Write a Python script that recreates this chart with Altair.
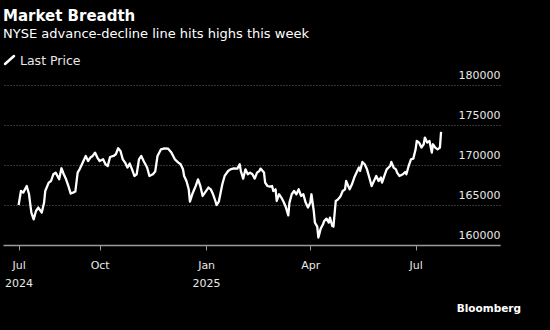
import altair as alt
import pandas as pd

dates = [
    "2024-07-23", "2024-07-25", "2024-07-27", "2024-07-30", "2024-08-01", "2024-08-03", "2024-08-05",
    "2024-08-07", "2024-08-09", "2024-08-12", "2024-08-14", "2024-08-15", "2024-08-18", "2024-08-20",
    "2024-08-22", "2024-08-24", "2024-08-27", "2024-08-29", "2024-08-31", "2024-09-02", "2024-09-04",
    "2024-09-06", "2024-09-08", "2024-09-10", "2024-09-12", "2024-09-14", "2024-09-17", "2024-09-19",
    "2024-09-21", "2024-09-23", "2024-09-25", "2024-09-27", "2024-09-29", "2024-10-01", "2024-10-04",
    "2024-10-06", "2024-10-08", "2024-10-10", "2024-10-13", "2024-10-15", "2024-10-17", "2024-10-19",
    "2024-10-21", "2024-10-23", "2024-10-25", "2024-10-27", "2024-10-29", "2024-10-31", "2024-11-02",
    "2024-11-04", "2024-11-06", "2024-11-08", "2024-11-11", "2024-11-13", "2024-11-16", "2024-11-18",
    "2024-11-20", "2024-11-23", "2024-11-26", "2024-11-29", "2024-12-02", "2024-12-05", "2024-12-08",
    "2024-12-10", "2024-12-12", "2024-12-13", "2024-12-15", "2024-12-17", "2024-12-18", "2024-12-20",
    "2024-12-23", "2024-12-25", "2024-12-27", "2024-12-29", "2024-12-31", "2025-01-03", "2025-01-05",
    "2025-01-07", "2025-01-09", "2025-01-10", "2025-01-12", "2025-01-15", "2025-01-17", "2025-01-20",
    "2025-01-22", "2025-01-25", "2025-01-28", "2025-01-30", "2025-01-31", "2025-02-02", "2025-02-04",
    "2025-02-06", "2025-02-08", "2025-02-10", "2025-02-12", "2025-02-14", "2025-02-16", "2025-02-17",
    "2025-02-20", "2025-02-21", "2025-02-23", "2025-02-25", "2025-02-27", "2025-02-28", "2025-03-02",
    "2025-03-03", "2025-03-05", "2025-03-07", "2025-03-09", "2025-03-11", "2025-03-13", "2025-03-14",
    "2025-03-16", "2025-03-18", "2025-03-20", "2025-03-22", "2025-03-24", "2025-03-26", "2025-03-28",
    "2025-03-30", "2025-04-01", "2025-04-02", "2025-04-04", "2025-04-05", "2025-04-07", "2025-04-08",
    "2025-04-10", "2025-04-12", "2025-04-13", "2025-04-15", "2025-04-17", "2025-04-18", "2025-04-20",
    "2025-04-21", "2025-04-23", "2025-04-25", "2025-04-27", "2025-04-29", "2025-05-01", "2025-05-02",
    "2025-05-05", "2025-05-07", "2025-05-09", "2025-05-11", "2025-05-13", "2025-05-14", "2025-05-16",
    "2025-05-18", "2025-05-20", "2025-05-22", "2025-05-24", "2025-05-26", "2025-05-28", "2025-05-30",
    "2025-06-01", "2025-06-02", "2025-06-04", "2025-06-06", "2025-06-09", "2025-06-10", "2025-06-12",
    "2025-06-14", "2025-06-15", "2025-06-17", "2025-06-20", "2025-06-22", "2025-06-23", "2025-06-25",
    "2025-06-26", "2025-06-27", "2025-06-29", "2025-07-01", "2025-07-02", "2025-07-04", "2025-07-06",
    "2025-07-08", "2025-07-09", "2025-07-11", "2025-07-13", "2025-07-15", "2025-07-16", "2025-07-18",
    "2025-07-20", "2025-07-22", "2025-07-23",
]

values = [
    165000, 166750, 166550, 167375, 166340, 164050, 163210,
    164250, 164680, 164050, 165300, 166750, 167800, 168000,
    168840, 169050, 168210, 169590, 168840, 168210, 167375,
    166430, 166550, 166680, 169050, 169550, 170500, 171130,
    170500, 170930, 171130, 171550, 170930, 170500, 170710,
    170090, 169880, 171000, 171130, 171340, 172090, 171750,
    170710, 170300, 169680, 170180, 169460, 168630, 168840,
    170710, 171130, 170500, 169680, 168630, 168840, 169180,
    171130, 171960, 172090, 172050, 171550, 170710, 170300,
    170090, 169460, 168630, 168000, 166960, 165430, 166340,
    167375, 168210, 167375, 166130, 166550, 167180, 166960,
    166340, 165500, 165000, 165430, 167590, 168630, 169250,
    169460, 169590, 169550, 170090, 169250, 168300, 169460,
    168840, 169050, 168840, 168300, 169050, 169250, 169550,
    169050, 167800, 167375, 167300, 167375, 166750, 166960,
    165500, 166340, 165930, 165380, 164680, 163710, 165300,
    166340, 166750, 166340, 166960, 166130, 166340, 165300,
    164680, 165300, 166340, 164250, 162800, 162300, 160930,
    162050, 162590, 163000, 163300, 162800, 163430, 162380,
    162300, 165500, 165710, 166050, 166750, 166960, 168000,
    166960, 167590, 168430, 169050, 169680, 169250, 170380,
    170090, 169460, 168430, 167375, 168000, 168630, 168000,
    168430, 167800, 168630, 169460, 169880, 170380, 169680,
    169460, 169050, 168630, 168840, 169130, 168840, 169880,
    170300, 170710, 170800, 171960, 173000, 172800, 172180,
    172590, 173430, 172800, 173000, 171550, 172590, 172180,
    171960, 172180, 174130,
]

y_ticks = [160000, 165000, 170000, 175000, 180000]
title_text = "Market Breadth"
subtitle_text = "NYSE advance-decline line hits highs this week"
legend_text = "Last Price"
source_text = "Bloomberg"

df = pd.DataFrame({"date": pd.to_datetime(dates), "value": values})

FONT = "DejaVu Sans"

x_ticks = [
    alt.DateTime(year=2024, month=7, date=23),
    alt.DateTime(year=2024, month=10, date=1),
    alt.DateTime(year=2025, month=1, date=1),
    alt.DateTime(year=2025, month=4, date=1),
    alt.DateTime(year=2025, month=7, date=1),
]

label_expr = (
    "(month(datum.value) == 0 || (year(datum.value) == 2024 && month(datum.value) == 6))"
    " ? [timeFormat(datum.value, '%b'), timeFormat(datum.value, '%Y')]"
    " : timeFormat(datum.value, '%b')"
)

line = alt.Chart(df).mark_line(color="white", strokeWidth=2.3, strokeJoin="round").encode(
    x=alt.X(
        "date:T",
        scale=alt.Scale(domain=["2024-07-09T12:00:00", "2025-09-11T22:00:00"], nice=False),
        axis=alt.Axis(
            title=None, values=x_ticks, labelExpr=label_expr, grid=False,
            domainColor="#9a9a9a", domainWidth=1.5, tickColor="#9a9a9a", tickSize=5,
            labelColor="#e8e8e8", labelFont=FONT, labelFontSize=11, labelLineHeight=18,
            labelPadding=9, labelFlush=False, labelOverlap=False, labelAlign="center",
        ),
    ),
    y=alt.Y(
        "value:Q",
        scale=alt.Scale(domain=[160000, 182500], nice=False, zero=False),
        axis=alt.Axis(
            title=None, orient="right", values=y_ticks, format="d", domain=False, ticks=False,
            tickSize=0, grid=True, gridColor="#6a6a6a", gridDash=[1, 2], gridWidth=1,
            labelAlign="right", labelPadding=0, labelBaseline="alphabetic", labelOffset=-7,
            labelColor="#e8e8e8", labelFont=FONT, labelFontSize=11, labelFlush=False,
        ),
    ),
)

def text_layer(txt, x, y, size, weight="normal", align="left", color="white"):
    return alt.Chart(pd.DataFrame({"t": [txt]})).mark_text(
        align=align, baseline="alphabetic", font=FONT, fontSize=size,
        fontWeight=weight, color=color,
    ).encode(text="t:N", x=alt.value(x), y=alt.value(y))

title = text_layer(title_text, 0, -44, 15, weight="bold")
subtitle = text_layer(subtitle_text, 0, -27, 13)
legend_label = text_layer(legend_text, 17, 0, 12.5, color="#e8e8e8")
source = text_layer(source_text, 518, 247, 10.5, weight="bold", align="right")

legend_icon = alt.Chart(pd.DataFrame({"a": [0]})).mark_rule(
    color="white", strokeWidth=2.5, strokeCap="round"
).encode(x=alt.value(2), x2=alt.value(11), y=alt.value(-1), y2=alt.value(-9))

chart = alt.layer(line, title, subtitle, legend_icon, legend_label, source).properties(
    width=497,
    height=180,
    padding={"left": 3, "top": 65, "right": 50, "bottom": 85},
    autosize=alt.AutoSizeParams(type="none"),
    background="black",
).configure_view(stroke=None)

chart.save("out.html", embed_options={"renderer": "svg", "actions": False})
